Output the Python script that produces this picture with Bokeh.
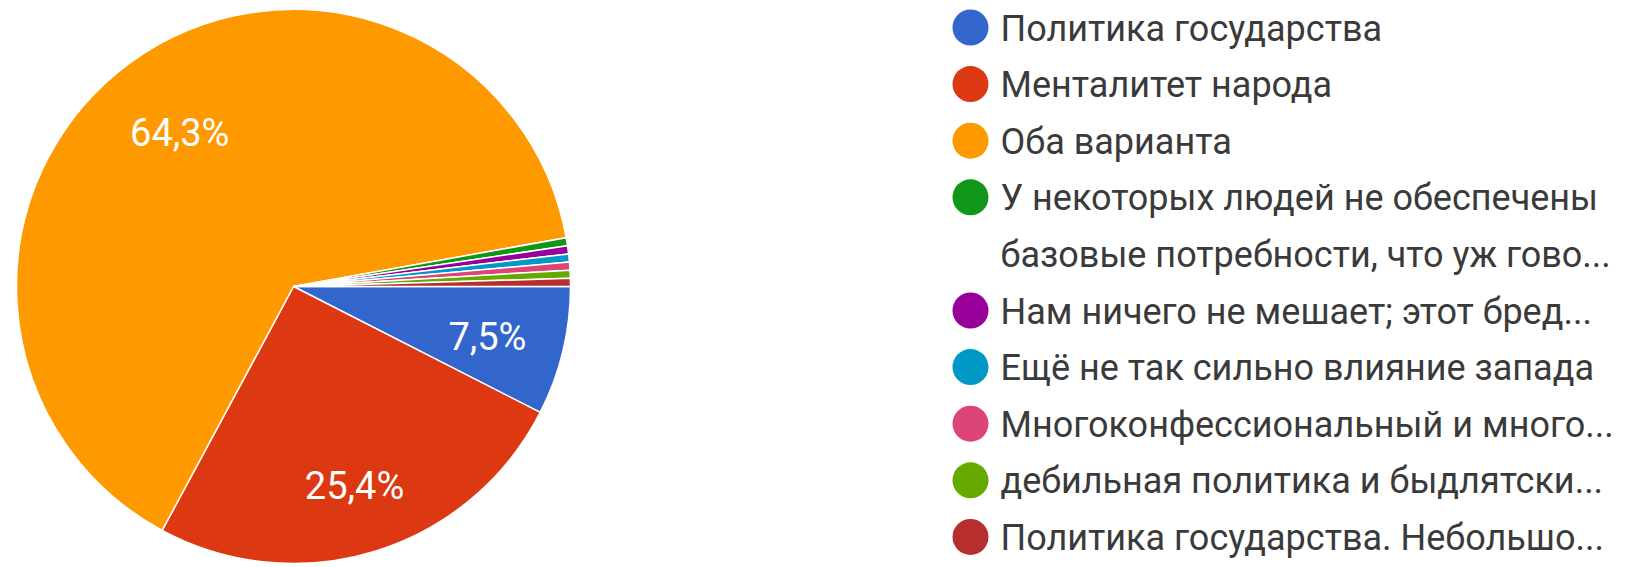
import math
from bokeh.plotting import figure
from bokeh.models import Range1d
from bokeh.core.properties import value
from bokeh.embed import file_html
from bokeh.resources import INLINE

# ---- data ----
categories = [
    "Политика государства",
    "Менталитет народа",
    "Оба варианта",
    "У некоторых людей не обеспечены\nбазовые потребности, что уж гово...",
    "Нам ничего не мешает; этот бред...",
    "Ещё не так сильно влияние запада",
    "Многоконфессиональный и много...",
    "дебильная политика и быдлятски...",
    "Политика государства. Небольшо...",
]
counts = [16, 54, 137, 1, 1, 1, 1, 1, 1]
pct_labels = ["7,5%", "25,4%", "64,3%", "", "", "", "", "", ""]
colors = ["#3366CC", "#DC3912", "#FF9900", "#109618", "#990099",
          "#0099C6", "#DD4477", "#66AA00", "#B82E2E"]

W, H = 1629, 567
p = figure(width=W, height=H, output_backend="svg", toolbar_location=None,
           x_range=Range1d(0, W), y_range=Range1d(0, H), min_border=0)
p.axis.visible = False
p.grid.visible = False
p.outline_line_color = None
p.background_fill_color = "white"
p.border_fill_color = "white"

def Y(y_page):  # page-top pixel -> data y
    return H - y_page

def X(x_page):
    return x_page

cx, cy, r = X(293), Y(286), 277
total = sum(counts)
cum = 0.0
starts, ends = [], []
for c in counts:
    a0 = -2 * math.pi * (cum + c) / total
    a1 = -2 * math.pi * cum / total
    starts.append(a0)
    ends.append(a1)
    cum += c

p.wedge(x=[cx] * len(counts), y=[cy] * len(counts), radius=r, radius_units="screen",
        start_angle=starts, end_angle=ends, fill_color=colors,
        line_color="white", line_width=1.5)

# percentage labels placed along slice mid-angles
label_frac = [0.72, 0.74, 0.70]
for i, t in enumerate(pct_labels):
    if not t:
        continue
    mid = (starts[i] + ends[i]) / 2
    f = label_frac[i]
    p.text(x=[cx + f * r * math.cos(mid)], y=[cy + f * r * math.sin(mid)], text=[t],
           text_font=value("Roboto"), text_font_size="38px", text_color="white",
           text_align="center", text_baseline="middle", y_offset=4)

# legend
lines = []
for i, name in enumerate(categories):
    for j, part in enumerate(name.split("\n")):
        lines.append((i, j, part))
step = 56.6
for k, (i, j, part) in enumerate(lines):
    yp = 27 + step * k
    if j == 0:
        p.scatter(x=[X(970)], y=[Y(yp)], size=36, marker="circle",
                  fill_color=colors[i], line_color=None)
    p.text(x=[X(1000)], y=[Y(yp + 1)], text=[part], text_font=value("Roboto"),
           text_font_size="36px", text_color="#3a3a3a",
           text_align="left", text_baseline="middle")

open("out.html", "w").write(file_html(p, INLINE))
